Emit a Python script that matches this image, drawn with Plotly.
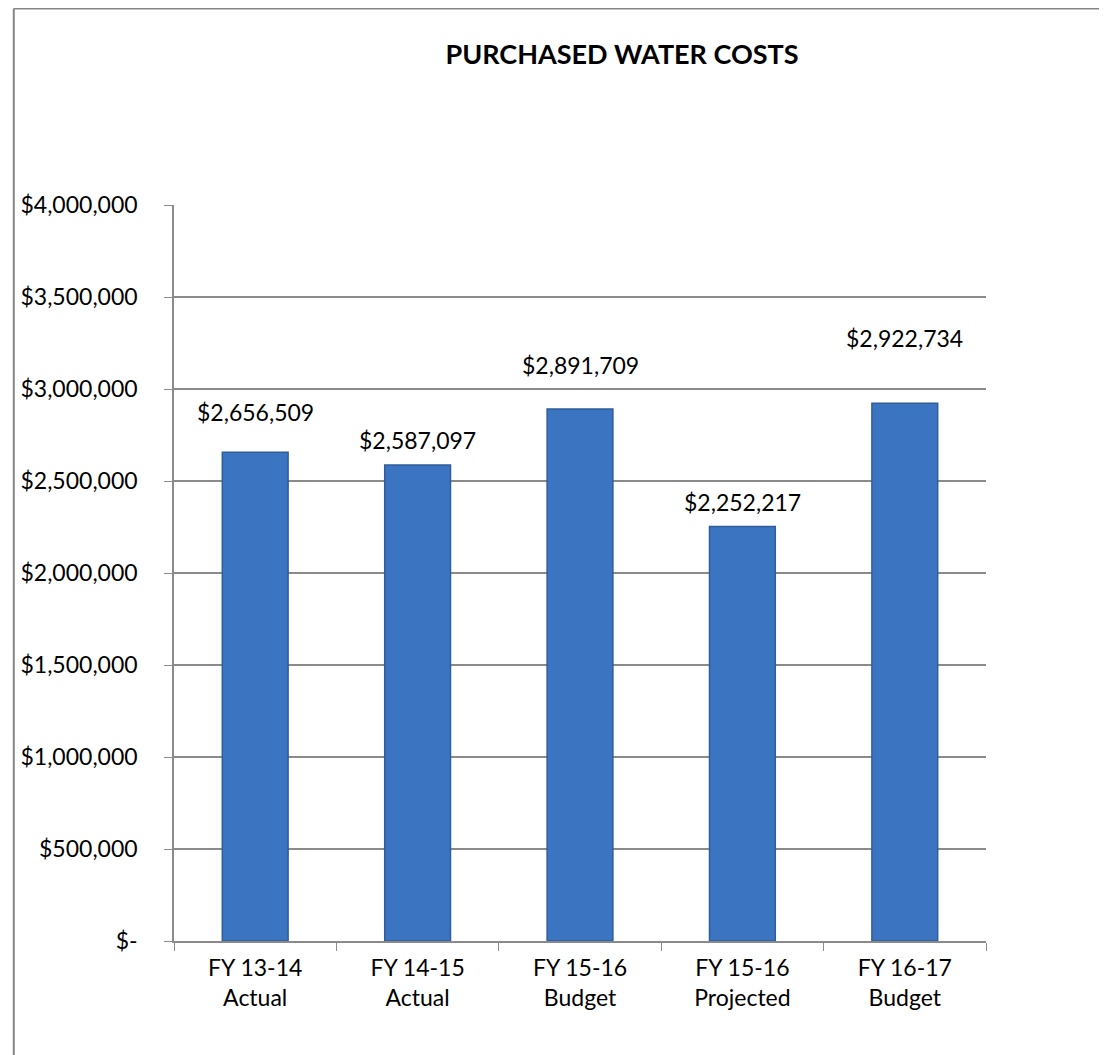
"""
Purchased water costs bar chart.
"""

import plotly.graph_objects as go


categories = ['FY 13-14<br>Actual', 'FY 14-15<br>Actual', 'FY 15-16<br>Budget',
              'FY 15-16<br>Projected', 'FY 16-17<br>Budget']
costs = [2656509, 2587097, 2891709, 2252217, 2922734]
y_ticks = [0, 500000, 1000000, 1500000, 2000000, 2500000, 3000000, 3500000, 4000000]

# vertical offset (px) of each value label above its bar, as placed in the original
label_offsets = [40, 25, 44, 25, 65]

FONT = 'Lato, Calibri, sans-serif'
GRID = '#8a8a8a'

# the html page adds an 8px body margin, so the figure is laid out 8px up/left
W, H = 1107, 1055
L, T = 162, 197
PLOT_W, PLOT_H = 816, 736


def money(v):
    return '$-' if v == 0 else f'${v:,.0f}'


fig = go.Figure(go.Bar(
    x=categories,
    y=costs,
    width=0.405,
    marker=dict(color='#3b75c2', line=dict(color='#2f5d9a', width=1.5)),
    hovertemplate='%{x}<br>%{y:$,.0f}<extra></extra>',
))

for cat, val, off in zip(categories, costs, label_offsets):
    fig.add_annotation(
        x=cat, y=val, text=money(val),
        showarrow=False, yanchor='middle', yshift=off,
        font=dict(size=23, color='#000000', family=FONT),
    )

# chart border: only its top and left edges fall inside the original crop
x_left = -(L - 1) / PLOT_W
y_top = 1 + (T - 0.5) / PLOT_H
fig.add_shape(type='line', xref='paper', yref='paper',
              x0=x_left, x1=1.3, y0=y_top, y1=y_top,
              line=dict(color='#868686', width=2), layer='below')
fig.add_shape(type='line', xref='paper', yref='paper',
              x0=x_left, x1=x_left, y0=-0.3, y1=y_top,
              line=dict(color='#868686', width=2), layer='below')

fig.update_layout(
    width=W,
    height=H,
    paper_bgcolor='white',
    plot_bgcolor='white',
    font=dict(family=FONT, size=23, color='#000000'),
    title=dict(
        text='<b>PURCHASED WATER COSTS</b>',
        x=614 / W, xref='container', xanchor='center',
        y=1 - 47 / H, yref='container', yanchor='middle',
        font=dict(size=27, family=FONT, color='#000000'),
    ),
    margin=dict(l=L, r=W - L - PLOT_W, t=T, b=H - T - PLOT_H),
    showlegend=False,
    bargap=0.595,
)

fig.update_xaxes(
    showline=True, linecolor=GRID, linewidth=1.5,
    ticks='outside', tickson='boundaries', ticklen=8, tickcolor=GRID,
    tickfont=dict(size=23, family=FONT),
    ticklabelstandoff=6,
    showgrid=False,
)

fig.update_yaxes(
    range=[0, 4000000],
    tickvals=y_ticks,
    ticktext=[money(v) for v in y_ticks],
    showline=True, linecolor=GRID, linewidth=1.5,
    ticks='outside', ticklen=8, tickcolor=GRID,
    showgrid=True, gridcolor=GRID, gridwidth=1.5,
    zeroline=False,
    tickfont=dict(size=23, family=FONT),
    ticklabelstandoff=22,
)

fig.write_html('out.html')
